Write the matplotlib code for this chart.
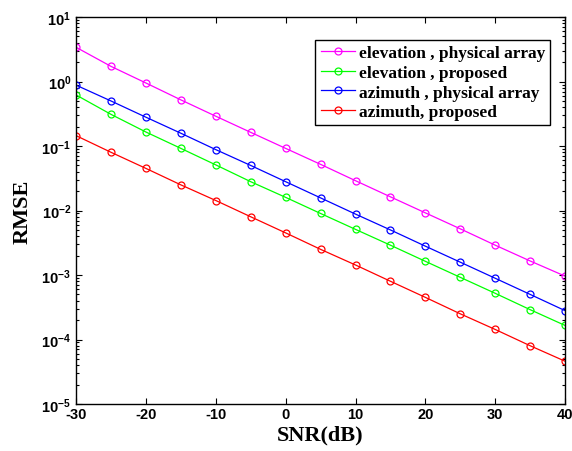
import matplotlib
matplotlib.use('Agg')
import matplotlib.pyplot as plt
from matplotlib.ticker import LogLocator, NullFormatter

plt.rcParams['axes.unicode_minus'] = False

# SNR points (dB)
snr = [-30, -25, -20, -15, -10, -5, 0, 5, 10, 15, 20, 25, 30, 35, 40]

# RMSE
elev_phys = [3.4, 1.72, 0.95, 0.52, 0.29, 0.163, 0.092, 0.052, 0.029, 0.0163,
             0.0092, 0.0052, 0.0029, 0.00165, 0.00096]
elev_prop = [0.62, 0.31, 0.165, 0.092, 0.051, 0.028, 0.016, 0.009, 0.0051, 0.0029,
             0.00163, 0.00092, 0.00052, 0.00029, 0.000165]
azim_phys = [0.88, 0.50, 0.28, 0.158, 0.088, 0.050, 0.028, 0.0157, 0.0088, 0.005,
             0.0028, 0.00158, 0.00089, 0.0005, 0.00028]
azim_prop = [0.145, 0.080, 0.045, 0.025, 0.0143, 0.008, 0.0045, 0.0025, 0.00143, 0.0008,
             0.00045, 0.00025, 0.000143, 0.00008, 0.000046]

labels = ['elevation , physical array', 'elevation , proposed',
          'azimuth , physical array', 'azimuth, proposed']
colors = ['#ff00ff', '#00ff00', '#0000ff', '#ff0000']

fig = plt.figure(figsize=(5.72, 4.52), dpi=100)
ax = fig.add_axes([0.133, 0.104, 0.855, 0.856])

for y, lab, c in zip([elev_phys, elev_prop, azim_phys, azim_prop], labels, colors):
    ax.semilogy(snr, y, '-o', color=c, lw=0.9, ms=5, mfc='none', mew=0.9, label=lab)

ax.set_xlim(-30, 40)
ax.set_ylim(1e-5, 1e1)
ax.set_xticks(range(-30, 41, 10))
ax.yaxis.set_major_locator(LogLocator(base=10, numticks=10))
ax.yaxis.set_minor_locator(LogLocator(base=10, subs=range(2, 10), numticks=10))
ax.yaxis.set_minor_formatter(NullFormatter())
ax.tick_params(which='both', direction='in', top=True, right=True, width=0.8)
ax.tick_params(which='major', length=4)
ax.tick_params(which='minor', length=2)
ax.tick_params(axis='x', pad=2)
for lbl in ax.get_xticklabels() + ax.get_yticklabels():
    lbl.set_fontfamily('Liberation Sans')
    lbl.set_fontweight('bold')
    lbl.set_fontsize(10.5)
for sp in ax.spines.values():
    sp.set_linewidth(1)

ax.set_xlabel('SNR(dB)', fontsize=16, fontweight='bold', family='Liberation Serif', labelpad=3)
ax.set_ylabel('RMSE', fontsize=16, fontweight='bold', family='Liberation Serif', labelpad=6)

leg = ax.legend(loc='upper right', bbox_to_anchor=(0.977, 0.95),
                prop={'family': 'Liberation Serif', 'weight': 'bold', 'size': 12.5},
                fancybox=False, framealpha=1, edgecolor='black',
                handlelength=2.0, handletextpad=0.2, borderpad=0.3, labelspacing=0.2,
                borderaxespad=0.2)
leg.get_frame().set_linewidth(1)

fig.savefig('out.png', dpi=100)
